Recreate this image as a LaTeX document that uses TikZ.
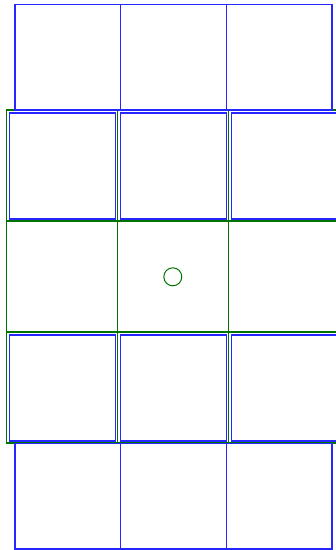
\documentclass[tikz,border=0pt]{standalone}
\begin{document}
\begin{tikzpicture}[x=1pt,y=-1pt,
  gline/.style={draw=green!45!black,line width=1.2pt},
  bline/.style={draw=blue!85!white,line width=1.4pt}]
\useasboundingbox (0,0) rectangle (336,550);
% green grid
\foreach \i in {0,1,2} {
  \foreach \j in {0,1,2} {
    \draw[gline] (6.7+111*\i,110+111*\j) rectangle ++(111,111);
  }
}
% outer blue rows (top and bottom)
\foreach \i in {0,1,2} {
  \draw[bline] (15+105.7*\i,4.3) rectangle ++(105.7,105.7);
  \draw[bline] (15+105.7*\i,443.5) rectangle ++(105.7,105.5);
}
% inner blue boxes
\foreach \i in {0,1,2} {
  \draw[bline] (9.3+111*\i,113) rectangle ++(106,106);
  \draw[bline] (9.3+111*\i,335) rectangle ++(106,106);
}
% centre circle
\node[draw=green!45!black,line width=1pt,circle,minimum size=18pt,inner sep=0pt] (c) at (172.8,276.8) {};
\end{tikzpicture}
\end{document}
